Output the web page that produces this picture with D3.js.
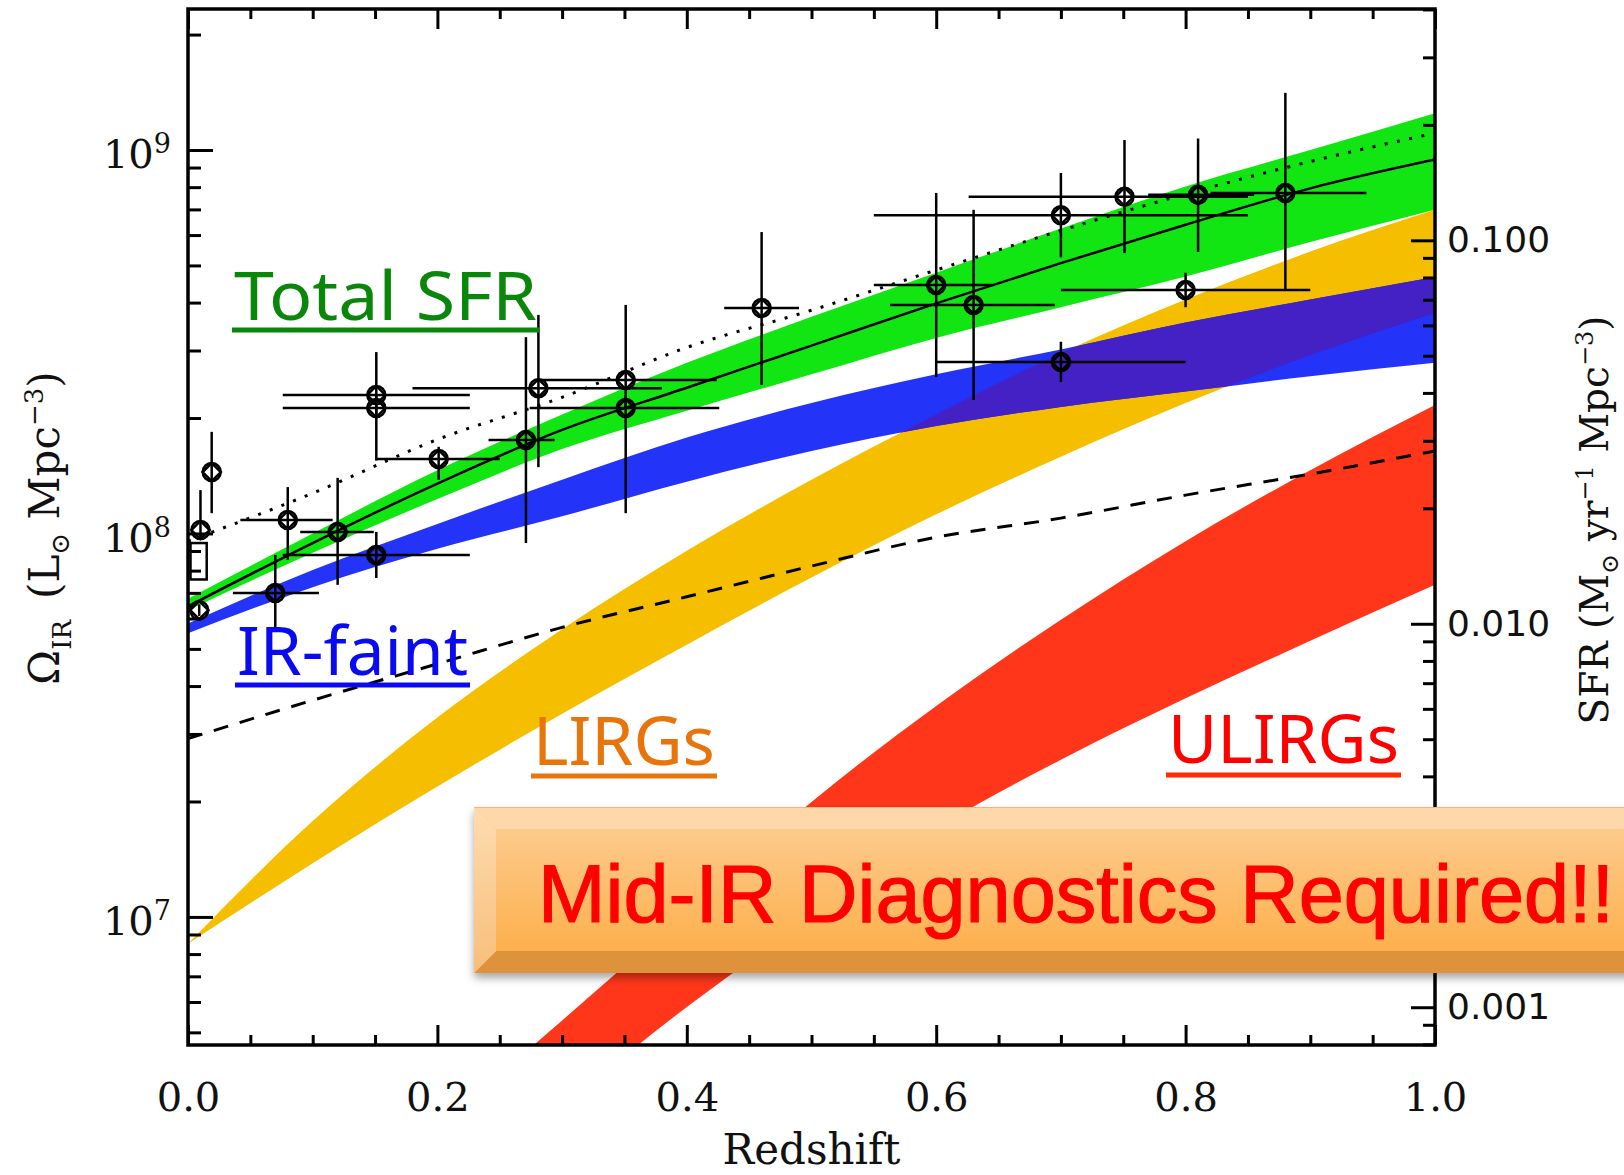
<!DOCTYPE html>
<html>
<head>
<meta charset="utf-8">
<script src="https://cdn.jsdelivr.net/npm/d3@7"></script>
<style>
  html, body { margin: 0; padding: 0; background: #fff; }
  svg { display: block; }
</style>
</head>
<body>
<div id="chart"></div>
<script>
// ---- data (values are log10 of Omega_IR in Lsun Mpc^-3) ----

// redshift grid of the model bands and lines
const zGrid = [0, 0.1, 0.2, 0.3, 0.4, 0.5, 0.6, 0.7, 0.8, 0.9, 1.0];

// total SFR band (green)
const totalHi = [7.83, 8.0, 8.165, 8.31, 8.445, 8.565, 8.68, 8.795, 8.905, 9.0, 9.096];
const totalLo = [7.80, 7.95, 8.09, 8.22, 8.32, 8.415, 8.51, 8.59, 8.67, 8.76, 8.844];

// IR-faint band (blue)
const faintHi = [7.765, 7.905, 8.025, 8.14, 8.25, 8.34, 8.415, 8.48, 8.55, 8.61, 8.669];
const faintLo = [7.74, 7.86, 7.96, 8.045, 8.135, 8.215, 8.28, 8.33, 8.37, 8.41, 8.445];

// LIRGs band (orange)
const lirgHi = [6.93, 7.25, 7.52, 7.75, 7.955, 8.14, 8.31, 8.47, 8.61, 8.735, 8.844];
const lirgLo = [6.93, 7.14, 7.34, 7.53, 7.71, 7.885, 8.05, 8.2, 8.34, 8.465, 8.575];

// ULIRGs band (red)
const ulirgZ = [0.2, 0.3, 0.4, 0.5, 0.6, 0.7, 0.8, 0.9, 1.0];
const ulirgHi = [6.45, 6.73, 7.015, 7.3, 7.55, 7.775, 7.98, 8.165, 8.335];
const ulirgLo = [6.28, 6.51, 6.765, 7.0, 7.23, 7.41, 7.57, 7.72, 7.866];

// model curves
const fitLine = [7.81, 7.975, 8.13, 8.27, 8.38, 8.49, 8.60, 8.705, 8.805, 8.90, 8.975];
const dottedLine = [7.98, 8.105, 8.245, 8.355, 8.485, 8.582, 8.687, 8.79, 8.885, 8.97, 9.044];
const dashedLine = [7.465, 7.565, 7.66, 7.755, 7.835, 7.915, 7.99, 8.04, 8.10, 8.155, 8.215];

// measurements with redshift bins and errors
const pointZ   = [0.010, 0.019, 0.009, 0.080, 0.120, 0.151, 0.151, 0.151, 0.201, 0.271, 0.281, 0.351, 0.351, 0.460, 0.600, 0.630, 0.700, 0.751, 0.810, 0.880, 0.800, 0.700, 0.070];
const pointZLo = [0.010, 0.019, 0.009, 0.042, 0.090, 0.076, 0.076, 0.076, 0.151, 0.241, 0.180, 0.282, 0.274, 0.430, 0.550, 0.563, 0.550, 0.626, 0.770, 0.820, 0.700, 0.600, 0.036];
const pointZHi = [0.010, 0.019, 0.009, 0.116, 0.149, 0.226, 0.226, 0.226, 0.250, 0.294, 0.380, 0.424, 0.426, 0.490, 0.645, 0.695, 0.850, 0.850, 0.855, 0.945, 0.900, 0.800, 0.105];
const pointVal = [8.009, 8.160, 7.800, 8.035, 8.004, 7.944, 8.361, 8.327, 8.194, 8.244, 8.379, 8.400, 8.327, 8.588, 8.648, 8.596, 8.830, 8.878, 8.883, 8.888, 8.635, 8.447, 7.845];
const pointLo  = [7.985, 8.053, 7.785, 7.931, 7.866, 7.884, 8.300, 8.190, 8.140, 7.975, 8.173, 8.330, 8.053, 8.387, 8.408, 8.348, 8.720, 8.731, 8.734, 8.635, 8.590, 8.395, 7.756];
const pointHi  = [8.113, 8.265, 7.815, 8.121, 8.145, 8.004, 8.473, 8.360, 8.226, 8.512, 8.570, 8.596, 8.360, 8.786, 8.888, 8.844, 8.940, 9.026, 9.030, 9.149, 8.680, 8.500, 7.944];

// small box symbol next to the lowest-z point
const boxZ = [0.002, 0.015];
const boxVal = [7.88, 7.975];

// axis ticks
const xMajor = [0, 0.2, 0.4, 0.6, 0.8, 1.0];
const xMinor = [0.05, 0.1, 0.15, 0.25, 0.3, 0.35, 0.45, 0.5, 0.55, 0.65, 0.7, 0.75, 0.85, 0.9, 0.95];
const yMajorExp = [7, 8, 9];
const sfrMajor = [0.001, 0.01, 0.1];
const sfrPerLum = 1.72e-10; // Kennicutt conversion, Msun/yr per Lsun

// ---- layout ----
const width = 1624, height = 1175;
const margin = { top: 9, right: 189, bottom: 130, left: 188 };
const plotRight = width - margin.right;
const plotBottom = height - margin.bottom;

const x = d3.scaleLinear().domain([0, 1]).range([margin.left, plotRight]);
const y = d3.scaleLog().domain([10 ** 6.666, 10 ** 9.3677]).range([plotBottom, margin.top]);
const ySfr = d3.scaleLog().domain(y.domain().map(v => v * sfrPerLum)).range(y.range());

const svg = d3.select("#chart").append("svg")
    .attr("xmlns", "http://www.w3.org/2000/svg")
    .attr("width", width)
    .attr("height", height)
    .attr("viewBox", [0, 0, width, height]);

svg.append("rect").attr("width", width).attr("height", height).attr("fill", "#fff");

const defs = svg.append("defs");

/**
 * Helpers turning index-aligned arrays into paths
 */
const bandPath = (zs, lo, hi) => d3.area()
    .x((d, i) => x(zs[i]))
    .y0((d, i) => y(10 ** lo[i]))
    .y1((d, i) => y(10 ** hi[i]))
    .curve(d3.curveMonotoneX)(zs);

const linePath = (zs, v) => d3.line()
    .x((d, i) => x(zs[i]))
    .y((d, i) => y(10 ** v[i]))
    .curve(d3.curveMonotoneX)(zs);

defs.append("clipPath").attr("id", "plotClip")
    .append("rect")
    .attr("x", margin.left).attr("y", margin.top)
    .attr("width", plotRight - margin.left)
    .attr("height", plotBottom - margin.top);

defs.append("clipPath").attr("id", "lirgClip")
    .append("path").attr("d", bandPath(zGrid, lirgLo, lirgHi));

// ---- bands ----
const bands = svg.append("g").attr("clip-path", "url(#plotClip)");
bands.append("path").attr("d", bandPath(zGrid, totalLo, totalHi)).attr("fill", "#12e612");
bands.append("path").attr("d", bandPath(zGrid, lirgLo, lirgHi)).attr("fill", "#f5bf00");
bands.append("path").attr("d", bandPath(zGrid, faintLo, faintHi)).attr("fill", "#2333f7");
// overlap of IR-faint and LIRGs drawn in purple
bands.append("g").attr("clip-path", "url(#lirgClip)")
    .append("path").attr("d", bandPath(zGrid, faintLo, faintHi)).attr("fill", "#4421c4");
bands.append("path").attr("d", bandPath(ulirgZ, ulirgLo, ulirgHi)).attr("fill", "#ff361a");

// ---- model lines ----
const lines = svg.append("g").attr("clip-path", "url(#plotClip)").attr("fill", "none").attr("stroke", "#000");
lines.append("path").attr("d", linePath(zGrid, dashedLine))
    .attr("stroke-width", 3).attr("stroke-dasharray", "15 12");
lines.append("path").attr("d", linePath(zGrid, dottedLine))
    .attr("stroke-width", 3).attr("stroke-dasharray", "3 9.5");
lines.append("path").attr("d", linePath(zGrid, fitLine))
    .attr("stroke-width", 2.5);

// ---- data points ----
const pts = svg.append("g").attr("stroke", "#000").attr("fill", "none").attr("stroke-width", 2.5);
const idx = d3.range(pointZ.length);

pts.selectAll("line.h").data(idx).join("line")
    .attr("class", "h")
    .attr("x1", i => x(pointZLo[i])).attr("x2", i => x(pointZHi[i]))
    .attr("y1", i => y(10 ** pointVal[i])).attr("y2", i => y(10 ** pointVal[i]));

pts.selectAll("line.v").data(idx).join("line")
    .attr("class", "v")
    .attr("x1", i => x(pointZ[i])).attr("x2", i => x(pointZ[i]))
    .attr("y1", i => y(10 ** pointLo[i])).attr("y2", i => y(10 ** pointHi[i]));

pts.selectAll("circle").data(idx).join("circle")
    .attr("cx", i => x(pointZ[i])).attr("cy", i => y(10 ** pointVal[i]))
    .attr("r", 9);

pts.selectAll("path.dia").data(idx).join("path")
    .attr("class", "dia")
    .attr("transform", i => `translate(${x(pointZ[i])},${y(10 ** pointVal[i])})`)
    .attr("d", d3.symbol().type(d3.symbolDiamond2).size(210));

pts.append("rect")
    .attr("x", x(boxZ[0])).attr("y", y(10 ** boxVal[1]))
    .attr("width", x(boxZ[1]) - x(boxZ[0]))
    .attr("height", y(10 ** boxVal[0]) - y(10 ** boxVal[1]));

// ---- axes ----
const tickStyle = g => {
    g.select(".domain").remove();
    g.selectAll(".tick line").attr("stroke", "#000").attr("stroke-width", 3);
};

svg.append("g").attr("transform", `translate(0,${plotBottom})`)
    .call(d3.axisBottom(x).tickValues(xMinor).tickSize(-10).tickFormat(""))
    .call(tickStyle);

svg.append("g").attr("transform", `translate(0,${plotBottom})`)
    .call(d3.axisBottom(x).tickValues(xMajor).tickSize(-20).tickPadding(38).tickFormat(d3.format(".1f")))
    .call(tickStyle)
    .call(g => g.selectAll("text")
        .attr("font-family", "'DejaVu Serif', serif")
        .attr("font-size", 40)
        .attr("fill", "#111"));

svg.append("g").attr("transform", `translate(0,${margin.top})`)
    .call(d3.axisTop(x).tickValues(xMinor).tickSize(-10).tickFormat(""))
    .call(tickStyle);
svg.append("g").attr("transform", `translate(0,${margin.top})`)
    .call(d3.axisTop(x).tickValues(xMajor).tickSize(-20).tickFormat(""))
    .call(tickStyle);

const yMajor = yMajorExp.map(e => 10 ** e);
const yMinor = y.ticks().filter(v => !yMajor.some(m => Math.abs(v / m - 1) < 1e-6));

svg.append("g").attr("transform", `translate(${margin.left},0)`)
    .call(d3.axisLeft(y).tickValues(yMinor).tickSize(-13).tickFormat(""))
    .call(tickStyle);

const leftMajor = svg.append("g").attr("transform", `translate(${margin.left},0)`)
    .call(d3.axisLeft(y).tickValues(yMajor).tickSize(-25).tickFormat(""))
    .call(tickStyle);

leftMajor.selectAll(".tick").append("text")
    .attr("x", -17).attr("y", 18)
    .attr("text-anchor", "end")
    .attr("font-family", "'DejaVu Serif', serif")
    .attr("font-size", 40)
    .attr("fill", "#111")
    .each(function (d, i) {
        const t = d3.select(this);
        t.append("tspan").text("10");
        t.append("tspan").attr("dy", -15).attr("font-size", 27).text(yMajorExp[i]);
    });

const sfrMinor = ySfr.ticks().filter(v => !sfrMajor.some(m => Math.abs(v / m - 1) < 1e-6));

svg.append("g").attr("transform", `translate(${plotRight},0)`)
    .call(d3.axisRight(ySfr).tickValues(sfrMinor).tickSize(-12).tickFormat(""))
    .call(tickStyle);

svg.append("g").attr("transform", `translate(${plotRight},0)`)
    .call(d3.axisRight(ySfr).tickValues(sfrMajor).tickSize(-24).tickPadding(12).tickFormat(d3.format(".3f")))
    .call(tickStyle)
    .call(g => g.selectAll("text")
        .attr("font-family", "'DejaVu Sans', sans-serif")
        .attr("font-size", 36)
        .attr("fill", "#111"));

// frame
svg.append("rect")
    .attr("x", margin.left).attr("y", margin.top)
    .attr("width", plotRight - margin.left)
    .attr("height", plotBottom - margin.top)
    .attr("fill", "none").attr("stroke", "#000").attr("stroke-width", 3.5);

// ---- axis titles ----
svg.append("text")
    .attr("x", x(0.5)).attr("y", 1164)
    .attr("text-anchor", "middle")
    .attr("font-family", "'DejaVu Serif', serif")
    .attr("font-size", 42)
    .attr("fill", "#111")
    .text("Redshift");

const leftTitle = svg.append("text")
    .attr("transform", "translate(59,528) rotate(-90)")
    .attr("text-anchor", "middle")
    .attr("font-family", "'DejaVu Serif', serif")
    .attr("font-size", 42)
    .attr("fill", "#111");
leftTitle.append("tspan").text("Ω");
leftTitle.append("tspan").attr("dy", 12).attr("font-size", 26).text("IR");
leftTitle.append("tspan").attr("dy", -12).text("\u2002(L");
leftTitle.append("tspan").attr("dy", 10).attr("font-size", 26).text("⊙");
leftTitle.append("tspan").attr("dy", -10).text(" Mpc");
leftTitle.append("tspan").attr("dy", -16).attr("font-size", 26).text("−3");
leftTitle.append("tspan").attr("dy", 16).text(")");

const rightTitle = svg.append("text")
    .attr("transform", "translate(1608,520) rotate(-90)")
    .attr("text-anchor", "middle")
    .attr("font-family", "'DejaVu Serif', serif")
    .attr("font-size", 39)
    .attr("fill", "#111");
rightTitle.append("tspan").text("SFR (M");
rightTitle.append("tspan").attr("dy", 10).attr("font-size", 24).text("⊙");
rightTitle.append("tspan").attr("dy", -10).text(" yr");
rightTitle.append("tspan").attr("dy", -15).attr("font-size", 24).text("−1");
rightTitle.append("tspan").attr("dy", 15).text(" Mpc");
rightTitle.append("tspan").attr("dy", -15).attr("font-size", 24).text("−3");
rightTitle.append("tspan").attr("dy", 15).text(")");

// ---- band labels (underlined) ----
const labelLayout = [
    { text: "Total SFR", color: "#0a870a", line: "#0a870a", x: 234, y: 320, len: 303, uy: 330 },
    { text: "IR-faint", color: "#0a0af0", line: "#0a0af0", x: 237, y: 675, len: 231, uy: 685 },
    { text: "LIRGs", color: "#e8740c", line: "#e8740c", x: 533, y: 765, len: 182, uy: 776 },
    { text: "ULIRGs", color: "#ff0000", line: "#ff2a00", x: 1168, y: 763, len: 231, uy: 775 }
];

const labels = svg.append("g");
labels.selectAll("text").data(labelLayout).join("text")
    .attr("x", d => d.x).attr("y", d => d.y)
    .attr("font-family", "'Noto Sans', sans-serif")
    .attr("font-size", 68)
    .attr("textLength", d => d.len)
    .attr("lengthAdjust", "spacingAndGlyphs")
    .attr("fill", d => d.color)
    .text(d => d.text);
labels.selectAll("rect").data(labelLayout).join("rect")
    .attr("x", d => d.x - 2).attr("y", d => d.uy - 2.5)
    .attr("width", d => d.len + 4).attr("height", 5)
    .attr("fill", d => d.line);

// ---- "Mid-IR Diagnostics Required!!" bevelled box ----
const shadow = defs.append("filter").attr("id", "boxShadow")
    .attr("x", "-5%").attr("y", "-20%").attr("width", "110%").attr("height", "150%");
shadow.append("feDropShadow").attr("dx", 0).attr("dy", 5).attr("stdDeviation", 4)
    .attr("flood-color", "#000").attr("flood-opacity", 0.35);

const faceGrad = defs.append("linearGradient").attr("id", "faceGrad")
    .attr("x1", 0).attr("y1", 0).attr("x2", 0).attr("y2", 1);
faceGrad.append("stop").attr("offset", "0%").attr("stop-color", "#fdca8c");
faceGrad.append("stop").attr("offset", "100%").attr("stop-color", "#fdb04c");

const leftGrad = defs.append("linearGradient").attr("id", "leftGrad")
    .attr("x1", 0).attr("y1", 0).attr("x2", 0).attr("y2", 1);
leftGrad.append("stop").attr("offset", "0%").attr("stop-color", "#fedcb0");
leftGrad.append("stop").attr("offset", "100%").attr("stop-color", "#f7be7a");

const bx0 = 474, bx1 = 1680, by0 = 807, by1 = 973, bev = 22;
const box = svg.append("g").attr("filter", "url(#boxShadow)");
box.append("rect").attr("x", bx0).attr("y", by0).attr("width", bx1 - bx0).attr("height", by1 - by0)
    .attr("fill", "#fdc07a");
box.append("polygon")
    .attr("points", [[bx0, by0], [bx1, by0], [bx1, by0 + bev], [bx0 + bev, by0 + bev]].join(" "))
    .attr("fill", "#fed8a8");
box.append("polygon")
    .attr("points", [[bx0, by1], [bx0 + bev, by1 - bev], [bx1, by1 - bev], [bx1, by1]].join(" "))
    .attr("fill", "#de923a");
box.append("polygon")
    .attr("points", [[bx0, by0], [bx0 + bev, by0 + bev], [bx0 + bev, by1 - bev], [bx0, by1]].join(" "))
    .attr("fill", "url(#leftGrad)");
box.append("rect").attr("x", bx0 + bev).attr("y", by0 + bev)
    .attr("width", bx1 - bx0 - bev).attr("height", by1 - by0 - 2 * bev)
    .attr("fill", "url(#faceGrad)");
box.append("line").attr("x1", bx0).attr("x2", bx1).attr("y1", by0 + 0.5).attr("y2", by0 + 0.5)
    .attr("stroke", "#e2b98c").attr("stroke-width", 1);

svg.append("text")
    .attr("x", 538).attr("y", 922)
    .attr("font-family", "'Liberation Sans', Arial, sans-serif")
    .attr("font-size", 82)
    .attr("textLength", 1076)
    .attr("lengthAdjust", "spacingAndGlyphs")
    .attr("fill", "#ff0000")
    .attr("stroke", "#ff0000")
    .attr("stroke-width", 1.2)
    .text("Mid-IR Diagnostics Required!!");
</script>
</body>
</html>
